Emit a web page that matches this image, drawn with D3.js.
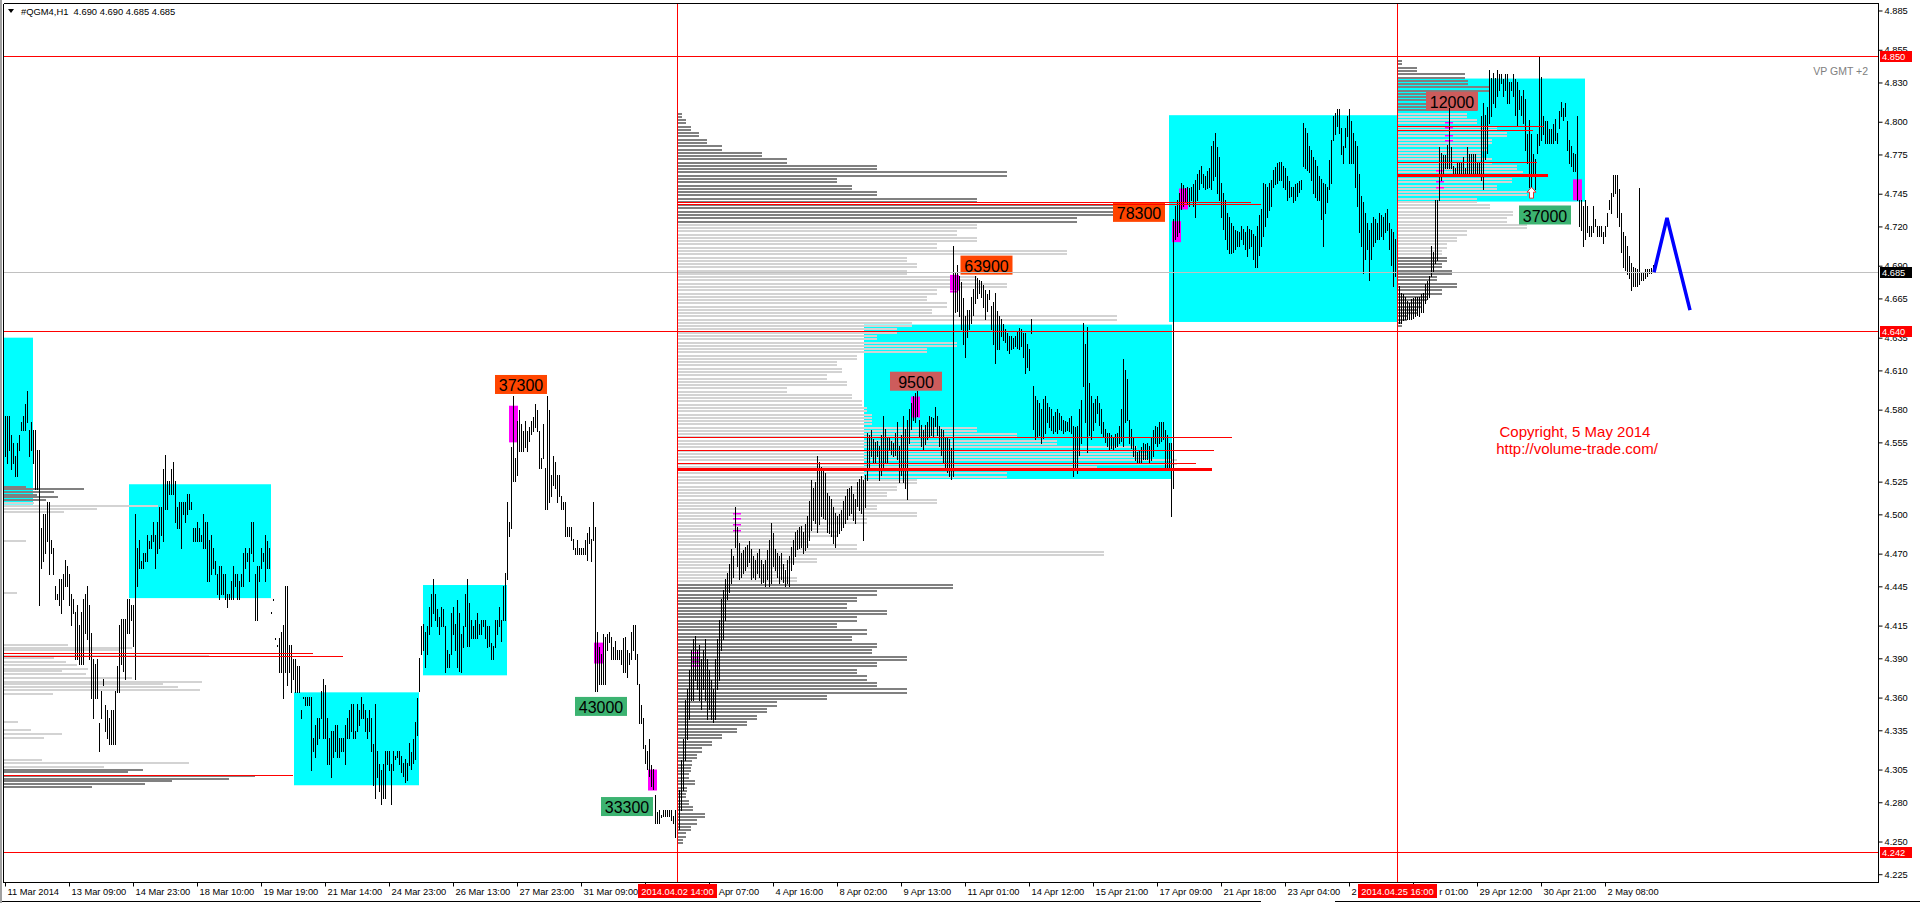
<!DOCTYPE html>
<html>
<head>
<meta charset="utf-8">
<script src="https://cdn.jsdelivr.net/npm/d3@7"></script>
<style>
body { margin: 0; background: #fff; overflow: hidden; }
svg { display: block; }
text { font-family: 'Liberation Sans', Arial, sans-serif; }
</style>
</head>
<body>
<script>
// #QGM4 H1 bars, prices in 0.001 units (one bar per hour, 825 bars)
const barHigh = [
	4575,4575,4575,4560,4554,4544,4554,4560,4570,4575, 4584,4594,4564,4570,4564,4564,4549,4549,4489,4500,
	4500,4509,4509,4480,4474,4445,4439,4450,4450,4454, 4465,4460,4454,4439,4435,4425,4430,4415,4425,4435,
	4439,4445,4430,4409,4389,4385,4389,4340,4365,4374, 4354,4350,4344,4350,4350,4365,4384,4415,4420,4420,
	4420,4435,4435,4430,4430,4500,4474,4480,4464,4470, 4470,4484,4479,4484,4494,4484,4494,4505,4505,4534,
	4545,4525,4525,4534,4540,4525,4505,4509,4509,4509, 4509,4515,4515,4509,4489,4489,4494,4489,4484,4500,
	4494,4494,4480,4484,4474,4464,4454,4460,4460,4454, 4454,4439,4439,4449,4460,4454,4454,4449,4454,4470,
	4474,4470,4474,4494,4494,4454,4460,4460,4474,4470, 4484,4479,4474,4425,4435,4405,4400,4405,4410,4415,
	4445,4445,4400,4400,4389,4389,4384,4384,4350,4360, 4360,4360,4360,4360,4329,4339,4344,4344,4365,4374,
	4369,4344,4329,4334,4334,4339,4339,4329,4329,4329, 4339,4344,4350,4355,4355,4334,4355,4350,4360,4355,
	4350,4344,4350,4344,4324,4355,4319,4309,4304,4309, 4319,4319,4319,4309,4319,4315,4319,4319,4315,4310,
	4313,4310,4325,4318,4328,4341,4359,4390,4414,4416, 4410,4414,4429,4439,4450,4439,4427,4421,4429,4427,
	4414,4396,4393,4424,4429,4416,4434,4424,4408,4414, 4439,4450,4432,4419,4414,4419,4424,4416,4419,4419,
	4419,4414,4414,4401,4399,4419,4419,4429,4419,4445, 4455,4509,4494,4551,4590,4543,4571,4579,4569,4563,
	4571,4563,4566,4571,4574,4584,4579,4563,4543,4569, 4535,4590,4579,4530,4544,4540,4530,4530,4514,4509,
	4509,4490,4490,4490,4481,4474,4480,4474,4474,4474, 4480,4485,4490,4481,4509,4490,4410,4398,4393,4408,
	4406,4408,4410,4406,4398,4403,4396,4396,4396,4405, 4406,4396,4394,4410,4415,4415,4393,4370,4354,4344,
	4323,4319,4328,4308,4305,4285,4272,4274,4270,4274, 4274,4274,4274,4274,4269,4274,4274,4289,4312,4328,
	4358,4366,4381,4396,4404,4407,4396,4400,4389,4396, 4404,4389,4381,4373,4366,4389,4404,4419,4435,4442,
	4450,4455,4462,4473,4468,4505,4490,4478,4470,4472, 4475,4476,4479,4473,4468,4465,4470,4473,4465,4462,
	4465,4472,4480,4493,4485,4473,4470,4468,4470,4462, 4457,4465,4468,4475,4480,4486,4488,4490,4491,4486,
	4492,4498,4510,4526,4520,4524,4544,4540,4536,4534, 4531,4516,4514,4511,4505,4501,4498,4500,4503,4510,
	4514,4519,4520,4521,4515,4511,4524,4527,4529,4526, 4530,4562,4560,4564,4557,4555,4556,4552,4560,4575,
	4565,4559,4559,4556,4554,4562,4570,4552,4560,4575, 4565,4572,4580,4585,4590,4592,4594,4572,4568,4564,
	4568,4570,4575,4574,4573,4582,4575,4567,4565,4564, 4559,4558,4557,4550,4705,4684,4690,4682,4677,4665,
	4651,4656,4656,4666,4672,4682,4680,4679,4678,4675, 4671,4668,4671,4659,4662,4669,4655,4651,4649,4645,
	4641,4638,4636,4636,4634,4636,4640,4642,4641,4638, 4638,4630,4626,4649,4598,4590,4587,4585,4580,4588,
	4590,4585,4582,4580,4575,4578,4580,4577,4575,4572, 4571,4570,4573,4575,4567,4566,4567,4580,4587,4646,
	4630,4643,4600,4590,4585,4588,4590,4585,4580,4570, 4565,4562,4562,4560,4559,4561,4562,4567,4580,4618,
	4610,4603,4572,4565,4559,4552,4547,4549,4551,4554, 4553,4554,4552,4558,4564,4567,4566,4570,4570,4570,
	4564,4560,4554,4554,4725,4735,4740,4745,4753,4751, 4749,4750,4749,4750,4752,4755,4760,4763,4766,4760,
	4758,4762,4764,4781,4785,4791,4780,4773,4753,4745, 4740,4730,4727,4722,4720,4717,4716,4715,4720,4718,
	4715,4720,4718,4717,4714,4712,4720,4728,4733,4753, 4752,4750,4753,4755,4763,4765,4768,4769,4769,4766,
	4764,4758,4754,4750,4750,4752,4753,4754,4755,4799, 4795,4791,4781,4778,4773,4770,4766,4758,4756,4753,
	4752,4750,4770,4786,4804,4806,4809,4809,4795,4781, 4795,4804,4809,4800,4791,4785,4781,4760,4743,4738,
	4730,4722,4717,4722,4727,4725,4722,4730,4728,4727, 4730,4733,4722,4718,4715,4710,4700,4674,4669,4668,
	4666,4663,4661,4664,4665,4666,4666,4666,4668,4669, 4676,4678,4682,4705,4700,4740,4740,4780,4776,4774,
	4774,4782,4810,4780,4766,4764,4769,4768,4769,4773, 4764,4780,4775,4775,4775,4775,4769,4769,4804,4814,
	4805,4811,4839,4833,4837,4833,4839,4836,4836,4832, 4836,4836,4830,4830,4836,4832,4830,4824,4819,4824,
	4817,4790,4801,4790,4775,4771,4790,4850,4834,4804, 4800,4800,4794,4794,4798,4802,4791,4808,4815,4810,
	4814,4800,4786,4781,4776,4775,4804,4740,4740,4735, 4740,4735,4720,4720,4735,4725,4720,4720,4720,4715,
	4720,4730,4740,4745,4759,4759,4759,4748,4730,4715, 4712,4705,4697,4692,4689,4688,4687,4749,4684,4684,
	4687,4687,4687,4688,4690
];
const barLow = [
	4544,4539,4549,4534,4539,4529,4529,4549,4564,4564, 4564,4570,4544,4549,4539,4519,4519,4430,4459,4464,
	4470,4479,4454,4470,4454,4435,4435,4430,4424,4435, 4445,4445,4430,4415,4424,4389,4389,4385,4385,4385,
	4409,4404,4389,4359,4344,4359,4359,4319,4344,4369, 4334,4329,4324,4324,4324,4324,4364,4364,4385,4380,
	4374,4409,4409,4419,4399,4374,4445,4459,4459,4459, 4464,4464,4474,4474,4479,4459,4470,4474,4484,4479,
	4504,4504,4515,4515,4515,4494,4489,4489,4474,4500, 4494,4500,4504,4504,4479,4479,4479,4479,4479,4474,
	4474,4449,4449,4454,4459,4454,4439,4435,4439,4439, 4435,4429,4435,4435,4435,4445,4435,4435,4445,4445,
	4459,4464,4449,4470,4464,4419,4419,4449,4459,4464, 4449,4459,4459,4424,4434,4404,4399,4379,4379,4359,
	4379,4369,4379,4364,4374,4364,4364,4364,4344,4359, 4354,4354,4354,4304,4319,4314,4324,4329,4344,4329,
	4329,4309,4309,4299,4314,4319,4314,4314,4319,4319, 4309,4329,4329,4334,4329,4329,4334,4339,4344,4344,
	4334,4329,4334,4319,4293,4283,4299,4288,4278,4283, 4283,4309,4304,4278,4304,4313,4314,4309,4303,4300,
	4295,4297,4308,4305,4310,4313,4331,4365,4393,4396, 4383,4393,4408,4414,4424,4419,4414,4408,4414,4414,
	4379,4383,4383,4393,4408,4396,4383,4380,4379,4398, 4414,4399,4399,4405,4405,4405,4405,4408,4408,4414,
	4405,4398,4399,4389,4389,4398,4408,4414,4403,4419, 4419,4450,4483,4489,4525,4525,4530,4548,4548,4548,
	4551,4548,4556,4561,4563,4566,4563,4535,4535,4543, 4504,4504,4509,4514,4522,4520,4509,4514,4504,4504,
	4483,4483,4483,4480,4473,4469,4469,4469,4469,4469, 4469,4465,4478,4464,4480,4365,4365,4370,4370,4370,
	4370,4396,4402,4389,4389,4389,4389,4389,4385,4379, 4379,4375,4385,4389,4396,4389,4370,4340,4340,4321,
	4310,4305,4300,4292,4290,4264,4264,4264,4268,4269, 4269,4269,4269,4266,4264,4253,4247,4259,4274,4289,
	4312,4328,4343,4358,4358,4373,4366,4358,4351,4366, 4358,4343,4351,4343,4341,4343,4366,4373,4396,4404,
	4419,4435,4440,4447,4452,4475,4460,4450,4452,4455, 4457,4460,4463,4450,4452,4450,4455,4452,4447,4448,
	4445,4450,4445,4447,4460,4457,4452,4447,4450,4448, 4445,4447,4445,4457,4462,4468,4473,4474,4475,4470,
	4472,4475,4480,4488,4495,4493,4486,4492,4498,4497, 4496,4486,4485,4483,4478,4475,4483,4485,4488,4490,
	4493,4496,4499,4501,4495,4493,4506,4503,4501,4480, 4505,4526,4535,4544,4539,4540,4544,4526,4530,4534,
	4540,4539,4549,4546,4544,4545,4542,4524,4530,4524, 4520,4511,4554,4565,4572,4570,4575,4559,4552,4549,
	4553,4557,4559,4560,4559,4567,4560,4552,4545,4539, 4534,4532,4529,4527,4529,4654,4655,4651,4641,4630,
	4620,4635,4641,4646,4652,4661,4665,4669,4666,4658, 4649,4655,4664,4641,4630,4615,4626,4626,4636,4633,
	4631,4625,4623,4626,4627,4628,4627,4626,4628,4620, 4608,4612,4610,4638,4565,4557,4559,4560,4554,4558,
	4562,4570,4566,4564,4562,4563,4562,4565,4564,4562, 4563,4564,4563,4562,4529,4535,4531,4545,4554,4598,
	4570,4547,4560,4557,4564,4570,4577,4568,4562,4559, 4555,4552,4549,4550,4549,4551,4552,4554,4556,4552,
	4570,4572,4554,4550,4544,4541,4539,4539,4540,4542, 4542,4542,4539,4541,4544,4554,4552,4554,4556,4557,
	4534,4536,4534,4498,4520,4710,4712,4715,4733,4735, 4738,4737,4735,4740,4735,4727,4740,4748,4753,4750,
	4748,4749,4750,4748,4755,4758,4745,4740,4727,4718, 4710,4702,4699,4699,4700,4702,4705,4705,4710,4706,
	4702,4697,4703,4705,4695,4689,4689,4698,4705,4712, 4720,4727,4732,4735,4750,4752,4753,4755,4755,4750,
	4748,4740,4742,4743,4738,4740,4743,4746,4748,4766, 4764,4763,4761,4755,4745,4742,4740,4740,4725,4705,
	4730,4738,4748,4753,4786,4790,4796,4791,4775,4768, 4780,4789,4768,4768,4768,4750,4735,4715,4705,4684,
	4695,4702,4679,4695,4705,4708,4710,4710,4712,4710, 4715,4717,4702,4690,4674,4682,4660,4646,4646,4648,
	4649,4649,4649,4649,4650,4651,4652,4651,4654,4654, 4661,4664,4666,4682,4685,4692,4694,4740,4755,4760,
	4764,4764,4764,4764,4758,4758,4758,4758,4758,4758, 4758,4760,4758,4758,4758,4758,4758,4758,4755,4748,
	4771,4776,4799,4804,4814,4811,4819,4824,4829,4819, 4824,4814,4814,4824,4819,4805,4796,4809,4805,4799,
	4778,4768,4750,4748,4758,4748,4776,4782,4786,4790, 4783,4783,4783,4783,4783,4786,4783,4795,4804,4801,
	4804,4778,4768,4766,4762,4762,4740,4720,4717,4705, 4710,4715,4712,4712,4715,4720,4712,4712,4712,4707,
	4712,4720,4733,4730,4743,4745,4727,4720,4700,4689, 4686,4683,4680,4671,4674,4674,4674,4676,4679,4679,
	4680,4682,4684,4684,4685
];

// time axis: one label every 32 bars
const timeBars = [0,32,64,96,128,160,192,224,256,288,320,352,384,416,448,480,512,544,576,608,640,672,704,736,768,800];
const timeLabels = ['11 Mar 2014','13 Mar 09:00','14 Mar 23:00','18 Mar 10:00','19 Mar 19:00','21 Mar 14:00',
	'24 Mar 23:00','26 Mar 13:00','27 Mar 23:00','31 Mar 09:00','1 Apr 21:00','3 Apr 07:00','4 Apr 16:00',
	'8 Apr 02:00','9 Apr 13:00','11 Apr 01:00','14 Apr 12:00','15 Apr 21:00','17 Apr 09:00','21 Apr 18:00',
	'23 Apr 04:00','24 Apr 15:00','28 Apr 01:00','29 Apr 12:00','30 Apr 21:00','2 May 08:00'];
const priceTicks = [4.885,4.855,4.830,4.800,4.775,4.745,4.720,4.690,4.665,4.635,4.610,4.580,4.555,
	4.525,4.500,4.470,4.445,4.415,4.390,4.360,4.335,4.305,4.280,4.250,4.225];

// horizontal levels and the two session markers
const levelPrice = [4.850, 4.640, 4.242];
const lastPrice = 4.685;
const markBar = [336, 696];
const markText = ['2014.04.02 14:00', '2014.04.25 16:00'];

// balance zones (cyan)
const zoneFrom = [-0.5, 62, 144.5, 209, 429.5, 582, 696];
const zoneTo = [14, 133, 207, 251, 583.5, 696, 790];
const zoneHigh = [4.635, 4.523, 4.364, 4.446, 4.645, 4.805, 4.833];
const zoneLow = [4.5075, 4.436, 4.293, 4.377, 4.527, 4.647, 4.739];

// volume profiles
const profAStart = -0.5;
const profAPrice = [4.521,4.519,4.517,4.515,4.513,4.511,4.509,4.506,4.504,4.502,4.480,4.440,4.400,4.398,
	4.396,4.392,4.390,4.387,4.385,4.382,4.380,4.378,4.375,4.372,4.370,4.368,4.366,4.363,4.341,4.335,4.332,
	4.329,4.312,4.310,4.307,4.305,4.303,4.300,4.298,4.296,4.294,4.292];
const profAVol = [22,80,50,33,54,42,30,154,93,60,22,13,64,128,115,205,50,62,73,84,58,82,128,198,159,174,
	196,49,14,27,58,40,38,185,100,139,124,251,225,168,141,88];
const profAValue = [4.306, 4.5095];

const profBStart = 336;
const profBTop = 4.805;
const profBVol = [5,9,14,22,30,45,85,110,200,330, 160,175,200,300,460,440,400,300,280,300,
	260,390,230,240,230,300,330,260,250,270, 255,440,235,220,200,280,250,180,160,165,
	150,170,110,175,185,190,195,195,300,340, 380,460,470,500,420,330,240,220,210,260,
	200,240,190,150,160,130,180,427,140,110, 100,120,276,200,180,170,210,180,160,190,
	175,200,195,230,200,180,190,200,230,150, 100,90,80,70,60,45,35,25,20,15,
	14,12,18,10,9,12,16,28,20,14, 9,6];
const profBValue = [4.4475, 4.7225];

const profCStart = 696;
const profCTop = 4.845;
const profCVol = [5,20,68,71,93,75,70,80,70,80, 100,110,95,90,85,95,120,126,115,100,
	130,80,93,116,110,130,70,60,50,45, 50,45,55,40,60,45,30,25,20,10,5];
const profCValue = [4.6975, 4.8085];
const profStep = 0.005;

// point-of-control lines: start bar, price, end bar
const pocFrom = [-0.5, -0.5, -0.5, 336, 336, 336, 336, 336, 336, 696, 696, 696, 696];
const pocPrice = [4.394, 4.392, 4.301, 4.739, 4.737, 4.559, 4.549, 4.539, 4.535, 4.797, 4.794, 4.769, 4.759];
const pocTo = [154, 169, 144, 623, 628, 613.5, 604.5, 595.5, 603.5, 769.5, 764, 766, 771.5];
const pocMain = [false, false, false, false, false, false, false, false, true, false, false, false, true];

// volume spikes (magenta)
const spikeBar = [254, 296.5, 323.5, 455, 474.5, 585.5, 589, 786];
const spikeHigh = [4.583, 4.402, 4.305, 4.590, 4.683, 4.724, 4.749, 4.756];
const spikeLow = [4.555, 4.386, 4.289, 4.574, 4.671, 4.708, 4.733, 4.740];
const dashBar = [345,345,345,345, 366,366,366,366, 474.5,474.5,474.5,474.5, 722,722,722,722, 717.5,717.5,717.5,717.5];
const dashPrice = [4.395,4.391,4.388,4.385, 4.501,4.497,4.493,4.488, 4.683,4.679,4.675,4.671,
	4.800,4.796,4.790,4.786, 4.763,4.759,4.755,4.750];

// volume labels
const labelBar = [258, 298, 311, 455.5, 490.75, 567, 770, 723.5];
const labelTop = [4.6065, 4.3605, 4.284, 4.609, 4.6977, 4.738, 4.736, 4.823];
const labelText = ['37300', '43000', '33300', '9500', '63900', '78300', '37000', '12000'];
const labelKind = ['top', 'bottom', 'bottom', 'mid', 'top', 'top', 'bottom', 'mid'];

// forecast path (blue)
const fcBar = [824.5, 831, 842.5];
const fcPrice = [4.685, 4.7265, 4.656];
const arrowBar = 763.25;
const arrowPrice = 4.750;

const W = 1920, H = 903;
const pL = 4, pR = 1878, pT = 4, pB = 882;

const svg = d3.select('body').append('svg').attr('width', W).attr('height', H);
svg.append('rect').attr('width', W).attr('height', H).attr('fill', '#fff');

const x = d3.scaleLinear().domain([0, 824]).range([5, 1653]);
const y = d3.scaleLinear().domain([4.242, 4.850]).range([852, 56.3]);
const vol = d3.scaleLinear().domain([0, 500]).range([0, 500]);
const labelColor = { top: '#ff4500', bottom: '#3cb371', mid: '#cd5c5c' };

svg.append('clipPath').attr('id', 'clip')
	.append('rect').attr('x', pL).attr('y', pT).attr('width', pR - pL).attr('height', pB - pT);
const plot = svg.append('g').attr('clip-path', 'url(#clip)');

// zones
plot.append('g').selectAll('rect')
	.data(zoneFrom)
	.join('rect')
	.attr('x', d => x(d))
	.attr('y', (d, i) => y(zoneHigh[i]))
	.attr('width', (d, i) => x(zoneTo[i]) - x(d))
	.attr('height', (d, i) => y(zoneLow[i]) - y(zoneHigh[i]))
	.attr('fill', '#00ffff');

// profiles
function stripes(start, prices, vols, value, offsets) {
	const rows = [];
	prices.forEach((p, k) => {
		offsets.forEach(o => rows.push({ p, v: vols[k], o, light: p >= value[0] && p <= value[1] }));
	});
	plot.append('g').selectAll('rect')
		.data(rows)
		.join('rect')
		.attr('x', x(start))
		.attr('y', d => Math.round(y(d.p) + d.o - 1))
		.attr('width', d => vol(d.v))
		.attr('height', 2)
		.attr('fill', d => (d.light ? '#d3d3d3' : '#808080'))
		.attr('shape-rendering', 'crispEdges');
}
stripes(profAStart, profAPrice, profAVol, profAValue, [0]);
stripes(profBStart, profBVol.map((v, k) => profBTop - k * profStep), profBVol, profBValue, [-1.64, 1.64]);
stripes(profCStart, profCVol.map((v, k) => profCTop - k * profStep), profCVol, profCValue, [-1.64, 1.64]);

// labels
const lab = plot.append('g').selectAll('g').data(labelText).join('g');
lab.append('rect')
	.attr('x', (d, i) => x(labelBar[i]) - 26)
	.attr('y', (d, i) => y(labelTop[i]))
	.attr('width', 52)
	.attr('height', 19)
	.attr('fill', (d, i) => labelColor[labelKind[i]]);
lab.append('text')
	.attr('x', (d, i) => x(labelBar[i]))
	.attr('y', (d, i) => y(labelTop[i]) + 16.3)
	.attr('text-anchor', 'middle')
	.attr('font-size', 16)
	.attr('fill', '#000')
	.text(d => d);

// magenta spikes
plot.append('g').selectAll('rect')
	.data(spikeBar)
	.join('rect')
	.attr('x', d => Math.round(x(d)) - 4)
	.attr('y', (d, i) => y(spikeHigh[i]))
	.attr('width', 9)
	.attr('height', (d, i) => y(spikeLow[i]) - y(spikeHigh[i]))
	.attr('fill', '#ff00ff');
plot.append('g').selectAll('rect')
	.data(dashBar)
	.join('rect')
	.attr('x', d => Math.round(x(d)) - 4)
	.attr('y', (d, i) => Math.round(y(dashPrice[i])))
	.attr('width', 8)
	.attr('height', 1.5)
	.attr('fill', '#ff00ff');

// bars
plot.append('g').selectAll('rect')
	.data(barHigh)
	.join('rect')
	.attr('x', (d, i) => Math.round(x(i)))
	.attr('y', d => Math.floor(y(d / 1000)))
	.attr('width', 1)
	.attr('height', (d, i) => Math.max(1, Math.ceil(y(barLow[i] / 1000)) - Math.floor(y(d / 1000))))
	.attr('fill', '#000')
	.attr('shape-rendering', 'crispEdges');

// price lines
plot.append('line')
	.attr('x1', pL).attr('x2', pR)
	.attr('y1', Math.round(y(lastPrice)) + 0.5).attr('y2', Math.round(y(lastPrice)) + 0.5)
	.attr('stroke', '#c0c0c0');
plot.append('g').selectAll('line')
	.data(levelPrice)
	.join('line')
	.attr('x1', pL).attr('x2', pR)
	.attr('y1', d => Math.round(y(d)) + 0.5).attr('y2', d => Math.round(y(d)) + 0.5)
	.attr('stroke', '#ff0000');
plot.append('g').selectAll('line')
	.data(pocPrice)
	.join('line')
	.attr('x1', (d, i) => x(pocFrom[i])).attr('x2', (d, i) => x(pocTo[i]))
	.attr('y1', d => Math.round(y(d)) + 0.5).attr('y2', d => Math.round(y(d)) + 0.5)
	.attr('stroke', '#ff0000')
	.attr('stroke-width', (d, i) => (pocMain[i] ? 3 : 1));
plot.append('g').selectAll('line')
	.data(markBar)
	.join('line')
	.attr('x1', d => Math.round(x(d)) + 0.5).attr('x2', d => Math.round(x(d)) + 0.5)
	.attr('y1', pT).attr('y2', pB)
	.attr('stroke', '#ff0000');

// arrow and forecast
const ax = x(arrowBar), ay = y(arrowPrice);
plot.append('path')
	.attr('d', `M${ax},${ay} l4.5,5 h-2.5 v6 h-4 v-6 h-2.5 z`)
	.attr('fill', '#fff')
	.attr('stroke', '#e03030')
	.attr('stroke-width', 1);
plot.append('path')
	.datum(fcBar.map((b, i) => [b, fcPrice[i]]))
	.attr('d', d3.line().x(d => x(d[0])).y(d => y(d[1])))
	.attr('fill', 'none')
	.attr('stroke', '#0000ff')
	.attr('stroke-width', 3.5);

// texts inside the chart
svg.append('text')
	.attr('x', 1868).attr('y', 75)
	.attr('text-anchor', 'end')
	.attr('font-size', 10.5)
	.attr('fill', '#808080')
	.text('VP GMT +2');
svg.append('text')
	.attr('x', 1575).attr('y', 437)
	.attr('text-anchor', 'middle')
	.attr('font-size', 15)
	.attr('fill', '#ff0000')
	.text('Copyright, 5 May 2014');
svg.append('text')
	.attr('x', 1577).attr('y', 454)
	.attr('text-anchor', 'middle')
	.attr('font-size', 15)
	.attr('fill', '#ff0000')
	.text('http://volume-trade.com/');

// header
svg.append('path').attr('d', 'M8,9 L14,9 L11,13 Z').attr('fill', '#000');
svg.append('text')
	.attr('x', 21).attr('y', 15)
	.attr('font-size', 9.4)
	.attr('fill', '#000')
	.style('white-space', 'pre')
	.text('#QGM4,H1  4.690 4.690 4.685 4.685');

// axes
const gy = svg.append('g')
	.attr('transform', `translate(${pR + 0.5},0)`)
	.call(d3.axisRight(y).tickValues(priceTicks).tickFormat(d3.format('.3f')).tickSize(4).tickPadding(2));
gy.select('.domain').remove();
gy.selectAll('text').attr('font-family', "'Liberation Sans', Arial, sans-serif").attr('font-size', 9.3).attr('fill', '#000');

const gx = svg.append('g')
	.attr('transform', `translate(0,${pB + 0.5})`)
	.call(d3.axisBottom(x).tickValues(timeBars).tickFormat((d, k) => timeLabels[k]).tickSize(4));
gx.select('.domain').remove();
gx.selectAll('text')
	.attr('font-family', "'Liberation Sans', Arial, sans-serif")
	.attr('font-size', 9.3)
	.attr('fill', '#000')
	.attr('text-anchor', 'start')
	.attr('x', 2)
	.attr('y', 12.5)
	.attr('dy', 0);

// time labels partly under the red date tags keep only their visible characters
const markBoxes = markBar.map(b => [Math.round(x(b)) - 39, Math.round(x(b)) + 40]);
gx.selectAll('.tick').each(function (d) {
	const node = d3.select(this).select('text').node();
	const tx = x(d);
	const s = node.textContent;
	const vis = [];
	for (let k = 0; k < s.length; k++) {
		const a = tx + node.getStartPositionOfChar(k).x;
		const e = tx + node.getEndPositionOfChar(k).x;
		vis.push(!markBoxes.some(([b0, b1]) => e > b0 && a < b1));
	}
	if (vis.every(v => v)) return;
	const first = vis.indexOf(true);
	if (first < 0) { d3.select(node).remove(); return; }
	let last = first;
	while (last + 1 < s.length && vis[last + 1]) last++;
	const sx = node.getStartPositionOfChar(first).x;
	d3.select(node).attr('x', sx).text(s.slice(first, last + 1).trim());
});

// frame
const frame = svg.append('g').attr('stroke', '#000').attr('shape-rendering', 'crispEdges');
frame.append('line').attr('x1', 3.5).attr('x2', pR + 0.5).attr('y1', 3.5).attr('y2', 3.5);
frame.append('line').attr('x1', 3.5).attr('x2', 3.5).attr('y1', 3.5).attr('y2', pB + 0.5);
frame.append('line').attr('x1', pR + 0.5).attr('x2', pR + 0.5).attr('y1', 3.5).attr('y2', pB + 0.5);
frame.append('line').attr('x1', 3.5).attr('x2', pR + 0.5).attr('y1', pB + 0.5).attr('y2', pB + 0.5);
frame.append('line').attr('x1', 0).attr('x2', 1261).attr('y1', 901.5).attr('y2', 901.5);
frame.append('line').attr('x1', 1335).attr('x2', W).attr('y1', 901.5).attr('y2', 901.5);
svg.append('rect').attr('x', 0).attr('y', 0).attr('width', 2).attr('height', H).attr('fill', '#a0a0a0');

// price tags on the axis
const tags = svg.append('g').selectAll('g').data(levelPrice.concat([lastPrice])).join('g');
tags.append('rect')
	.attr('x', pR + 2)
	.attr('y', d => Math.round(y(d)) - 5)
	.attr('width', 32)
	.attr('height', 11)
	.attr('fill', d => (d === lastPrice ? '#000' : '#ff0000'));
tags.append('text')
	.attr('x', pR + 4)
	.attr('y', d => Math.round(y(d)) + 4)
	.attr('font-size', 9.3)
	.attr('fill', '#fff')
	.text(d => d3.format('.3f')(d));

// session date tags on the time axis
const marks = svg.append('g').selectAll('g').data(markBar).join('g');
marks.append('rect')
	.attr('x', d => Math.round(x(d)) - 39)
	.attr('y', pB + 2)
	.attr('width', 79)
	.attr('height', 14)
	.attr('fill', '#ff0000');
marks.append('text')
	.attr('x', d => Math.round(x(d)) + 0.5)
	.attr('y', pB + 13)
	.attr('text-anchor', 'middle')
	.attr('font-size', 9.3)
	.attr('fill', '#fff')
	.text((d, i) => markText[i]);
</script>
</body>
</html>
